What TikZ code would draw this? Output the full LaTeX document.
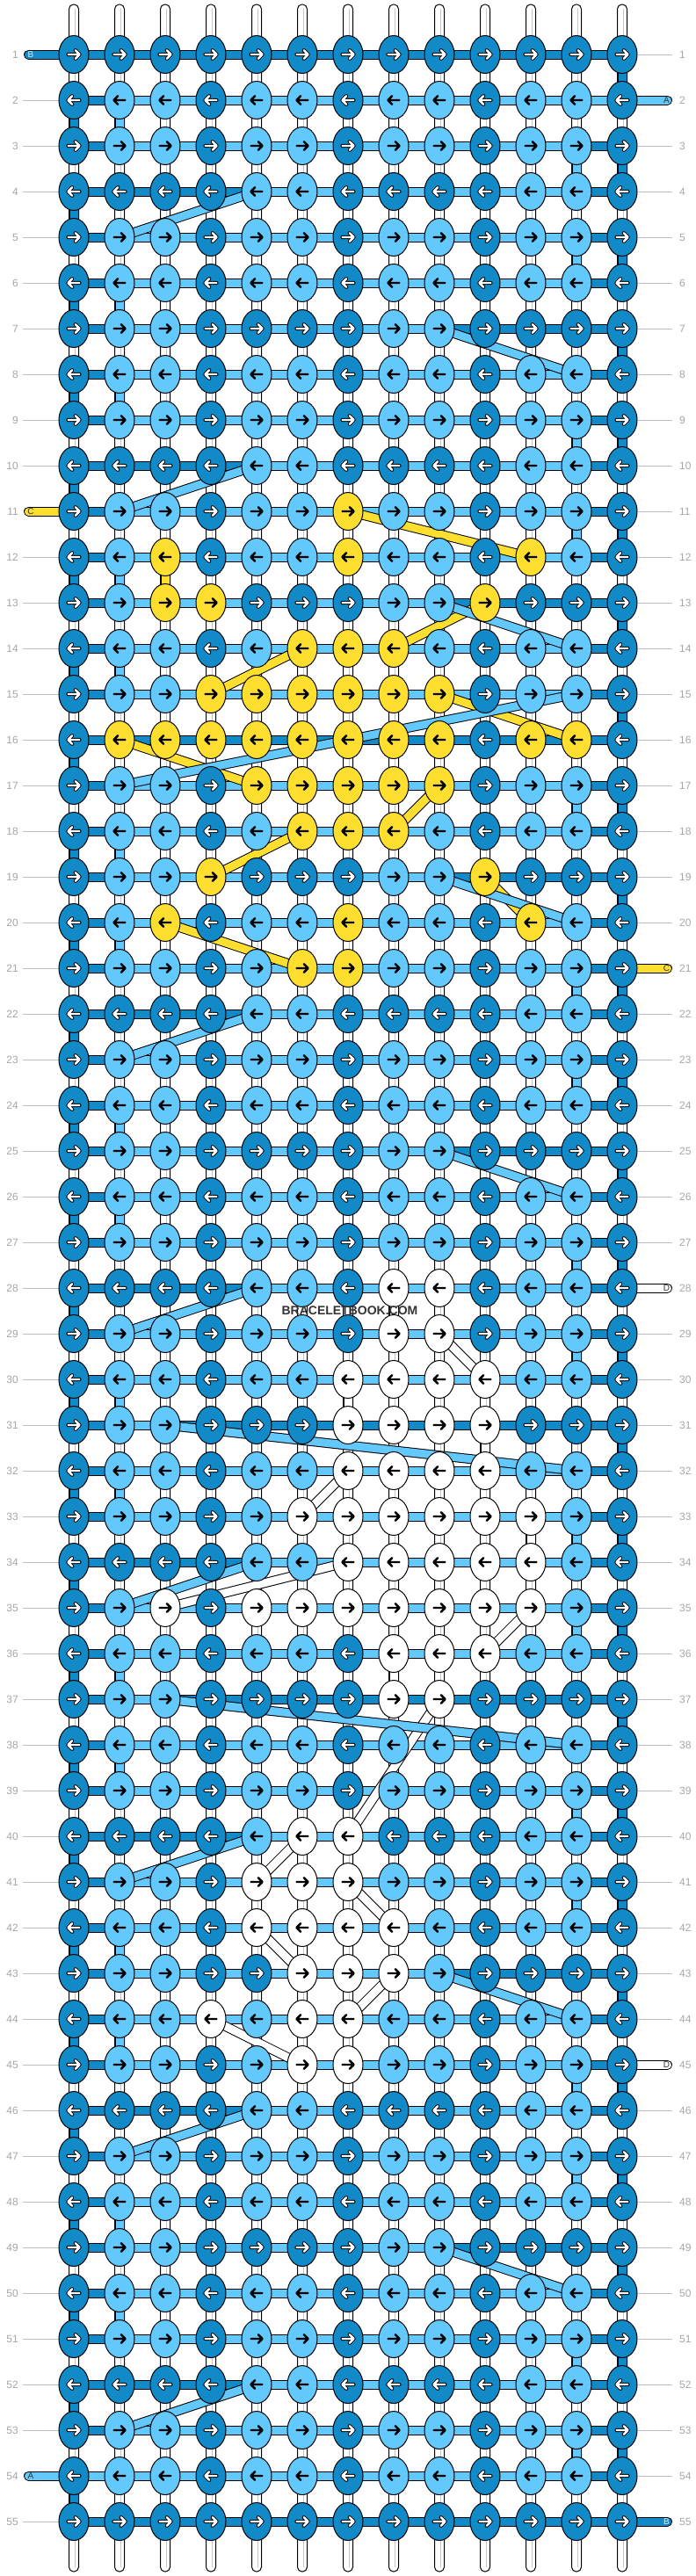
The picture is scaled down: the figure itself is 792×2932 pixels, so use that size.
\documentclass[tikz,border=0pt]{standalone}
\usepackage{fontspec}
\setmainfont{Liberation Sans}
\usetikzlibrary{shapes.geometric}
\definecolor{cD}{RGB}{18,138,200}
\definecolor{cL}{RGB}{99,200,252}
\definecolor{cY}{RGB}{254,222,46}
\definecolor{cW}{RGB}{255,255,255}
\definecolor{lblgray}{RGB}{165,165,165}
\definecolor{linegray}{RGB}{190,190,190}
\pgfdeclarelayer{wlayer}\pgfdeclarelayer{barlayer}\pgfdeclarelayer{bandlayer}
\pgfsetlayers{wlayer,barlayer,bandlayer,main}
\tikzset{
 knot/.style={ellipse,draw=black,line width=1pt,minimum width=34pt,minimum height=43pt,inner sep=0pt},
 strand/.style={draw=black,line width=1pt,double distance=9pt},
 strA/.style={strand,double=cL},
 strB/.style={strand,double=cD},
 strC/.style={strand,double=cY},
 strD/.style={strand,double=white},
 warpbox/.style={draw=black,fill=white,line width=1pt,rounded corners=5.2pt},
 warpmid/.style={draw=gray!45,line width=0.8pt},
 arrowblack/.style={draw=black,line width=2.4pt,line cap=round,line join=round},
 arrowoutline/.style={draw=black,line width=4.2pt,line cap=round,line join=round},
 arrowwhite/.style={draw=white,line width=2.4pt,line cap=round,line join=round},
 rowlbl/.style={font=\fontsize{12}{12}\selectfont,text=lblgray,inner sep=0pt},
 rowline/.style={draw=linegray,line width=1pt},
 pillletter/.style={font=\fontsize{10}{10}\selectfont,inner sep=0pt},
}
\newcommand\knot[3]{%
  \pgfmathsetmacro\kx{84+52*#2}%
  \pgfmathsetmacro\ky{62+52*(#1-1)}%
  \node[knot,fill=c#3] (k-#1-#2) at (\kx,\ky) {};%
  \ifodd#1\relax\def\ks{1}\else\def\ks{-1}\fi
  \begin{scope}[shift={(\kx,\ky)},xscale=\ks]
  \if#3D%
    \draw[arrowoutline] (-6.5,0) -- (6.5,0) (1.8,-4.8) -- (6.6,0) -- (1.8,4.8);
    \draw[arrowwhite] (-6.5,0) -- (6.5,0) (1.8,-4.8) -- (6.6,0) -- (1.8,4.8);
  \else
    \draw[arrowblack] (-6.5,0) -- (6.5,0) (1.8,-4.8) -- (6.6,0) -- (1.8,4.8);
  \fi
  \end{scope}%
}
\def\KRend{KRend}
\newcommand\knotrow[2]{\edef\KRrow{#1}\def\KRcol{0}\expandafter\KRparse#2\KRend}
\def\KRparse#1{\ifx#1\KRend\else\knot{\KRrow}{\KRcol}{#1}\pgfmathtruncatemacro\KRcol{\KRcol+1}\expandafter\KRparse\fi}

\begin{document}
\begin{tikzpicture}[x=1pt,y=-1pt]
\useasboundingbox (0,0) rectangle (792,2932);
% knots
\foreach \r/\s in {1/DDDDDDDDDDDDD,2/DLLDLLDLLDLLD,3/DLLDLLDLLDLLD,4/DDDDLLDDDDLLD,
5/DLLDLLDLLDLLD,6/DLLDLLDLLDLLD,7/DLLDDDDLLDDDD,8/DLLDLLDLLDLLD,9/DLLDLLDLLDLLD,
10/DDDDLLDDDDLLD,11/DLLDLLYLLDLLD,12/DLYDLLYLLDYLD,13/DLYYDDDLLYDDD,14/DLLDLYYYLDLLD,
15/DLLYYYYYYDLLD,16/DYYYYYYYYDYYD,17/DLLDYYYYYDLLD,18/DLLDLYYYLDLLD,19/DLLYDDDLLYDDD,
20/DLYDLLYLLDYLD,21/DLLDLYYLLDLLD,22/DDDDLLDDDDLLD,23/DLLDLLDLLDLLD,24/DLLDLLDLLDLLD,
25/DLLDDDDLLDDDD,26/DLLDLLDLLDLLD,27/DLLDLLDLLDLLD,28/DDDDLLDWWDLLD,29/DLLDLLDWWDLLD,
30/DLLDLLWWWWLLD,31/DLLDDDWWWWDDD,32/DLLDLLWWWWLLD,33/DLLDLWWWWWWLD,34/DDDDLLWWWWWLD,
35/DLWDWWWWWWWLD,36/DLLDLLDWWWLLD,37/DLLDDDDWWDDDD,38/DLLDLLDLLDLLD,39/DLLDLLDLLDLLD,
40/DDDDLWWDDDLLD,41/DLLDWWWLLDLLD,42/DLLDWWWWLDLLD,43/DLLDDWWWLDDDD,44/DLLWLWWLLDLLD,
45/DLLDLWWLLDLLD,46/DDDDLLDDDDLLD,47/DLLDLLDLLDLLD,48/DLLDLLDLLDLLD,49/DLLDDDDLLDDDD,
50/DLLDLLDLLDLLD,51/DLLDLLDLLDLLD,52/DDDDLLDDDDLLD,53/DLLDLLDLLDLLD,54/DLLDLLDLLDLLD,
55/DDDDDDDDDDDDD}{\knotrow{\r}{\s}}
% warps
\begin{pgfonlayer}{wlayer}
\foreach \c in {0,...,12}{
  \pgfmathsetmacro\wx{84+52*\c}
  \path[warpbox] (\wx-5.5,5) rectangle (\wx+5.5,2927);
  \coordinate (wt-\c) at (\wx+1.5,10);
  \coordinate (wb-\c) at (\wx+1.5,2922);
  \draw[warpmid] (wt-\c) -- (wb-\c);
}
\end{pgfonlayer}
% row labels
\foreach \r in {1,...,55}{
  \pgfmathsetmacro\ly{62+52*(\r-1)}
  \node[rowlbl,anchor=east] (ll-\r) at (21,\ly) {\r};
  \node[rowlbl,anchor=west] (lr-\r) at (773,\ly) {\r};
}
\begin{pgfonlayer}{barlayer}
\foreach \r in {1,...,55}{
  \ifnum\r=1\else\ifnum\r=11\else\ifnum\r=54\else
    \draw[rowline] ([xshift=5pt]ll-\r.east) -- (k-\r-0.west);
  \fi\fi\fi
  \ifnum\r=2\else\ifnum\r=21\else\ifnum\r=28\else\ifnum\r=45\else\ifnum\r=55\else
    \draw[rowline] (k-\r-12.east) -- ([xshift=-8pt]lr-\r.west);
  \fi\fi\fi\fi\fi
}
% B bars
\foreach \r in {1,...,55}{\draw[strB] (k-\r-0.center) -- (k-\r-12.center);}
% A bars
\foreach \r/\a/\b in {2/1/12,3/1/11,4/4/11,5/1/11,6/1/11,7/1/8,8/1/11,9/1/11,10/4/11,
11/1/11,12/1/11,13/1/8,14/1/11,15/1/11,17/1/11,18/1/11,19/1/8,20/1/11,21/1/11,22/4/11,
23/1/11,24/1/11,25/1/8,26/1/11,27/1/11,28/4/11,29/1/11,30/1/11,31/1/2,32/1/11,33/1/11,
34/4/11,35/1/11,36/1/11,37/1/2,38/1/11,39/1/11,40/4/11,41/1/11,42/1/11,43/1/8,44/1/11,
45/1/11,46/4/11,47/1/11,48/1/11,49/1/8,50/1/11,51/1/11,52/4/11,53/1/11,54/0/11}
  {\draw[strA] (k-\r-\a.center) -- (k-\r-\b.center);}
% pills
\coordinate (pB1) at (32.5,62);
\coordinate (pA2) at (759.5,114);
\coordinate (pC11) at (32.5,582);
\coordinate (pC21) at (759.5,1102);
\coordinate (pD28) at (759.5,1466);
\coordinate (pD45) at (759.5,2350);
\coordinate (pA54) at (32.5,2818);
\coordinate (pB55) at (759.5,2870);
\draw[strB,line cap=round] (pB1) -- (k-1-0.center);
\draw[strA,line cap=round] (pA2) -- (k-2-12.center);
\draw[strC,line cap=round] (pC11) -- (k-11-0.center);
\draw[strC,line cap=round] (k-21-12.center) -- (pC21);
\draw[strD,line cap=round] (pD28) -- (k-28-12.center);
\draw[strD,line cap=round] (k-45-12.center) -- (pD45);
\draw[strA,line cap=round] (k-54-0.center) -- (pA54);
\draw[strB,line cap=round] (k-55-12.center) -- (pB55);
\end{pgfonlayer}
\begin{pgfonlayer}{bandlayer}
% B drops
\foreach \r [evaluate=\r as \n using int(\r+1)] in {1,3,...,53}{\draw[strB] (k-\r-12.center) -- (k-\n-12.center);}
\foreach \r [evaluate=\r as \n using int(\r+1)] in {2,4,...,54}{\draw[strB] (k-\r-0.center) -- (k-\n-0.center);}
% C
\foreach \ra/\ca/\rb/\cb in {11/6/12/10,12/2/13/2,13/9/14/7,14/5/15/3,15/8/16/11,16/1/17/4,
17/8/18/7,18/5/19/3,19/9/20/10,20/2/21/5}
  {\draw[strC] (k-\ra-\ca.center) -- (k-\rb-\cb.center);}
% D
\foreach \ra/\ca/\rb/\cb in {28/7/29/7,29/8/30/9,30/6/31/6,31/9/32/9,32/6/33/5,33/10/34/10,
34/6/35/2,35/10/36/9,36/7/37/7,37/8/40/6,40/5/41/4,41/6/42/7,42/4/43/5,43/7/44/6,44/3/45/5}
  {\draw[strD] (k-\ra-\ca.center) -- (k-\rb-\cb.center);}
% A
\foreach \ra/\ca/\rb/\cb in {2/1/3/1,3/11/4/11,4/4/5/1,5/11/6/11,6/1/7/1,7/8/8/11,8/1/9/1,
9/11/10/11,10/4/11/1,11/11/12/11,12/1/13/1,13/8/14/11,14/1/15/1,15/11/17/1,17/11/18/11,
18/1/19/1,19/8/20/11,20/1/21/1,21/11/22/11,22/4/23/1,23/11/24/11,24/1/25/1,25/8/26/11,
26/1/27/1,27/11/28/11,28/4/29/1,29/11/30/11,30/1/31/1,31/2/32/11,32/1/33/1,33/11/34/11,
34/4/35/1,35/11/36/11,36/1/37/1,37/2/38/11,38/1/39/1,39/11/40/11,40/4/41/1,41/11/42/11,
42/1/43/1,43/8/44/11,44/1/45/1,45/11/46/11,46/4/47/1,47/11/48/11,48/1/49/1,49/8/50/11,
50/1/51/1,51/11/52/11,52/4/53/1,53/11/54/11}
  {\draw[strA] (k-\ra-\ca.center) -- (k-\rb-\cb.center);}
\end{pgfonlayer}
% pill letters
\node[pillletter,text=white!75!cL] (tB1) at (35,62) {B};
\node[pillletter,text=black!80] (tA2) at (758.5,114) {A};
\node[pillletter,text=black!80] (tC11) at (35,582) {C};
\node[pillletter,text=black!80] (tC21) at (758.5,1102) {C};
\node[pillletter,text=black!80] (tD28) at (758.5,1466) {D};
\node[pillletter,text=black!80] (tD45) at (758.5,2350) {D};
\node[pillletter,text=black!80] (tA54) at (35,2818) {A};
\node[pillletter,text=white!75!cL] (tB55) at (758.5,2870) {B};
% watermark
\node[font=\bfseries\fontsize{14}{14}\selectfont,text=black!80,inner sep=0pt] (wm) at (398,1492) {BRACELETBOOK.COM};
\end{tikzpicture}
\end{document}
